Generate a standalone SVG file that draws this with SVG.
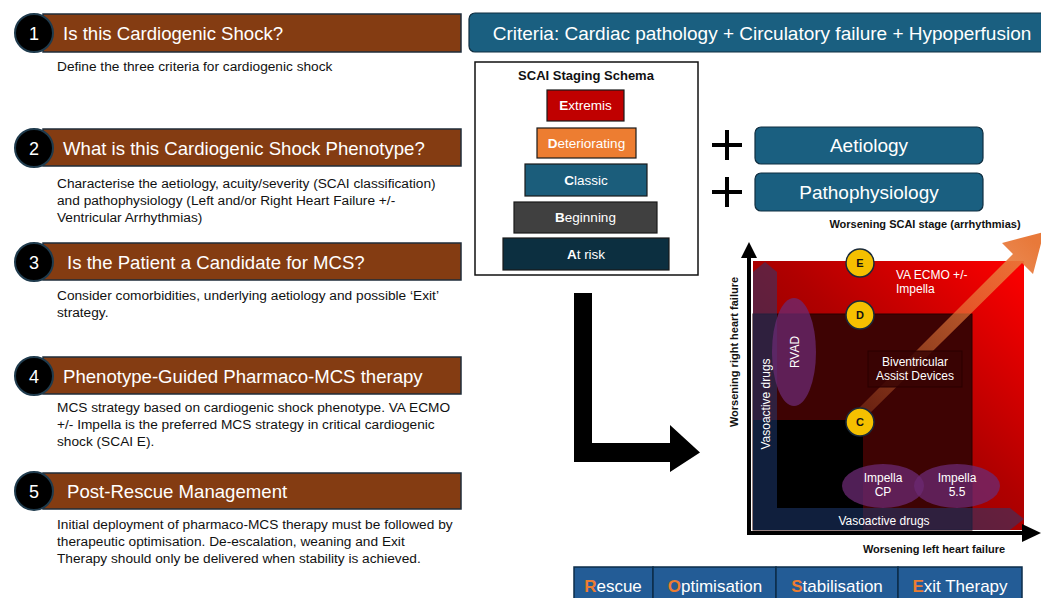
<svg xmlns="http://www.w3.org/2000/svg" width="1041" height="598" viewBox="0 0 1041 598">
<defs>
<style>
text{font-family:"Liberation Sans",Arial,sans-serif;}
.bar{fill:#843c12;stroke:#1f2d3a;stroke-width:1.5;}
.num{fill:#000;stroke:#1f3b4d;stroke-width:2;}
.numt{fill:#fff;font-size:18px;text-anchor:middle;}
.tt{fill:#fff;font-size:18.6px;}
.desc{fill:#111;font-size:13.7px;}
.teal{fill:#1a5f80;stroke:#0f2e40;stroke-width:1.2;}
.bt{fill:#fff;font-size:19px;text-anchor:middle;}
.st{fill:#fff;font-size:13.5px;text-anchor:middle;stroke:none;}
.stg{stroke:#1a1a1a;stroke-width:1.2;}
.circ{fill:#f5c000;stroke:#1a2a3a;stroke-width:1.5;}
.ct{fill:#111;font-size:11px;font-weight:bold;text-anchor:middle;}
.wt{fill:#fff;font-size:12px;text-anchor:middle;}
.wl{fill:#fff;font-size:12px;}
.ax{fill:#111;font-size:11px;font-weight:bold;text-anchor:middle;}
.ell{fill:#6b2a73;fill-opacity:0.75;}
.vas{fill:#1f3d7a;fill-opacity:0.5;}
.cell{fill:#235c96;stroke:#0c2d4a;stroke-width:1.5;}
.cellt{fill:#fff;font-size:17px;text-anchor:middle;}
.or{fill:#ed7d31;font-weight:bold;}
</style>
<linearGradient id="redg" x1="0" y1="1" x2="1" y2="0">
<stop offset="0" stop-color="#6e0000"/>
<stop offset="0.55" stop-color="#b00000"/>
<stop offset="1" stop-color="#ff0000"/>
</linearGradient>
<linearGradient id="org" gradientUnits="userSpaceOnUse" x1="866" y1="416" x2="1036" y2="244">
<stop offset="0" stop-color="#e8793a" stop-opacity="0.25"/>
<stop offset="1" stop-color="#e8793a" stop-opacity="1"/>
</linearGradient>
</defs>

<g id="step1">
<rect class="bar" x="43" y="14" width="418" height="38"/>
<circle class="num" cx="34" cy="33" r="19"/>
<text class="numt" x="34" y="39.5">1</text>
<text class="tt" x="63" y="39.5">Is this Cardiogenic Shock?</text>
<text class="desc" x="57" y="70.5">Define the three criteria for cardiogenic shock</text>
</g>
<g id="step2">
<rect class="bar" x="43" y="129" width="418" height="37"/>
<circle class="num" cx="34" cy="148" r="19"/>
<text class="numt" x="34" y="154.5">2</text>
<text class="tt" x="63" y="154.5">What is this Cardiogenic Shock Phenotype?</text>
<text class="desc" x="57" y="188">Characterise the aetiology, acuity/severity (SCAI classification)</text>
<text class="desc" x="57" y="205">and pathophysiology (Left and/or Right Heart Failure +/-</text>
<text class="desc" x="57" y="222">Ventricular Arrhythmias)</text>
</g>
<g id="step3">
<rect class="bar" x="43" y="243" width="418" height="37"/>
<circle class="num" cx="34" cy="262" r="19"/>
<text class="numt" x="34" y="268.5">3</text>
<text class="tt" x="67" y="268.5">Is the Patient a Candidate for MCS?</text>
<text class="desc" x="57" y="300">Consider comorbidities, underlying aetiology and possible ‘Exit’</text>
<text class="desc" x="57" y="317">strategy.</text>
</g>
<g id="step4">
<rect class="bar" x="43" y="357" width="418" height="37"/>
<circle class="num" cx="34" cy="376" r="19"/>
<text class="numt" x="34" y="382.5">4</text>
<text class="tt" x="63" y="382.5">Phenotype-Guided Pharmaco-MCS therapy</text>
<text class="desc" x="57" y="412">MCS strategy based on cardiogenic shock phenotype. VA ECMO</text>
<text class="desc" x="57" y="429">+/- Impella is the preferred MCS strategy in critical cardiogenic</text>
<text class="desc" x="57" y="446">shock (SCAI E).</text>
</g>
<g id="step5">
<rect class="bar" x="43" y="473" width="418" height="36"/>
<circle class="num" cx="34" cy="491" r="19"/>
<text class="numt" x="34" y="497.5">5</text>
<text class="tt" x="67" y="497.5">Post-Rescue Management</text>
<text class="desc" x="57" y="529">Initial deployment of pharmaco-MCS therapy must be followed by</text>
<text class="desc" x="57" y="546">therapeutic optimisation. De-escalation, weaning and Exit</text>
<text class="desc" x="57" y="563">Therapy should only be delivered when stability is achieved.</text>
</g>

<g id="criteria">
<rect class="teal" x="469" y="13" width="590" height="39" rx="6"/>
<text class="bt" x="762" y="40">Criteria: Cardiac pathology + Circulatory failure + Hypoperfusion</text>
</g>

<g id="scai">
<rect x="475" y="62" width="223" height="213" fill="#fff" stroke="#111" stroke-width="1.5"/>
<text x="586" y="80" font-size="13" font-weight="bold" text-anchor="middle" fill="#111">SCAI Staging Schema</text>
<rect class="stg" x="547" y="90" width="77" height="31" fill="#c00000"/>
<text class="st" x="585.5" y="110"><tspan font-weight="bold">E</tspan>xtremis</text>
<rect class="stg" x="537" y="128" width="99" height="30" fill="#ed7d31"/>
<text class="st" x="586.5" y="147.5"><tspan font-weight="bold">D</tspan>eteriorating</text>
<rect class="stg" x="525" y="164" width="122" height="32" fill="#1b5d7b"/>
<text class="st" x="586" y="184.5"><tspan font-weight="bold">C</tspan>lassic</text>
<rect class="stg" x="514" y="202" width="143" height="31" fill="#404040"/>
<text class="st" x="585.5" y="222"><tspan font-weight="bold">B</tspan>eginning</text>
<rect class="stg" x="503" y="238" width="166" height="32" fill="#0c2f40"/>
<text class="st" x="586" y="258.5"><tspan font-weight="bold">A</tspan>t risk</text>
</g>

<g id="aetiology">
<path d="M712 145H742M727 130V160" stroke="#000" stroke-width="4" fill="none"/>
<rect class="teal" x="755" y="127" width="228" height="37" rx="6"/>
<text class="bt" x="869" y="152">Aetiology</text>
</g>
<g id="pathophysiology">
<path d="M712 192H742M727 177V207" stroke="#000" stroke-width="4" fill="none"/>
<rect class="teal" x="755" y="173" width="228" height="38" rx="6"/>
<text class="bt" x="869" y="198.5">Pathophysiology</text>
</g>

<g id="connectors">
<path d="M574 293H592V443H670V425L700 452.5L670 472V462H574Z" fill="#000"/>
</g>

<g id="graph">
<rect x="753" y="261" width="271" height="269" fill="url(#redg)"/>
<rect x="753" y="314" width="219" height="216" fill="#3e0303" stroke="#2a0000" stroke-width="1"/>
<rect x="753" y="420" width="110" height="110" fill="#000"/>
<path d="M753 272L765 262L777 272V530H753Z" class="vas"/>
<path d="M777 508H1010L1024 519L1010 530H777Z" class="vas"/>
<text class="wt" font-size="13" transform="translate(770 404) rotate(-90)">Vasoactive drugs</text>
<text class="wt" font-size="13" x="884" y="524.5">Vasoactive drugs</text>
<path d="M859 408L1013 254L1002 243L1044 232L1033 274L1022 263L867 416Z" fill="url(#org)"/>
<g id="rvad">
<ellipse class="ell" cx="794" cy="352" rx="22" ry="54"/>
<text class="wt" transform="translate(799 352) rotate(-90)">RVAD</text>
</g>
<g id="impellacp">
<ellipse class="ell" cx="883" cy="486" rx="41" ry="22"/>
<text class="wt" x="883" y="482">Impella</text>
<text class="wt" x="883" y="496">CP</text>
</g>
<g id="impella55">
<ellipse class="ell" cx="957" cy="486" rx="43" ry="22"/>
<text class="wt" x="957" y="482">Impella</text>
<text class="wt" x="957" y="496">5.5</text>
</g>
<g id="biv">
<rect x="868" y="351" width="94" height="36" fill="#380303" fill-opacity="0.85" stroke="#2a0000" stroke-width="1"/>
<text class="wt" x="915" y="366">Biventricular</text>
<text class="wt" x="915" y="380">Assist Devices</text>
</g>
<g id="vaecmo">
<text class="wl" x="896" y="279">VA ECMO +/-</text>
<text class="wl" x="896" y="293">Impella</text>
</g>
<g id="stageE"><circle class="circ" cx="860" cy="263" r="14"/><text class="ct" x="860" y="267">E</text></g>
<g id="stageD"><circle class="circ" cx="860" cy="315" r="14"/><text class="ct" x="860" y="319">D</text></g>
<g id="stageC"><circle class="circ" cx="860" cy="422" r="14"/><text class="ct" x="860" y="426">C</text></g>
<path d="M749 256V533H1024" stroke="#000" stroke-width="4" fill="none"/>
<path d="M741 258L749 242L757 258Z" fill="#000"/>
<path d="M1022 524L1041 533L1022 542Z" fill="#000"/>
<text class="ax" transform="translate(738 352) rotate(-90)">Worsening right heart failure</text>
<text class="ax" x="934" y="553">Worsening left heart failure</text>
<text class="ax" x="925" y="228">Worsening SCAI stage (arrhythmias)</text>
</g>

<g id="phases">
<rect class="cell" x="574" y="567" width="79" height="40"/>
<rect class="cell" x="653" y="567" width="123" height="40"/>
<rect class="cell" x="776" y="567" width="122" height="40"/>
<rect class="cell" x="898" y="567" width="124" height="40"/>
<text class="cellt" x="613" y="591.5"><tspan class="or">R</tspan>escue</text>
<text class="cellt" x="715" y="591.5"><tspan class="or">O</tspan>ptimisation</text>
<text class="cellt" x="837" y="591.5"><tspan class="or">S</tspan>tabilisation</text>
<text class="cellt" x="960" y="591.5"><tspan class="or">E</tspan>xit Therapy</text>
</g>
</svg>
